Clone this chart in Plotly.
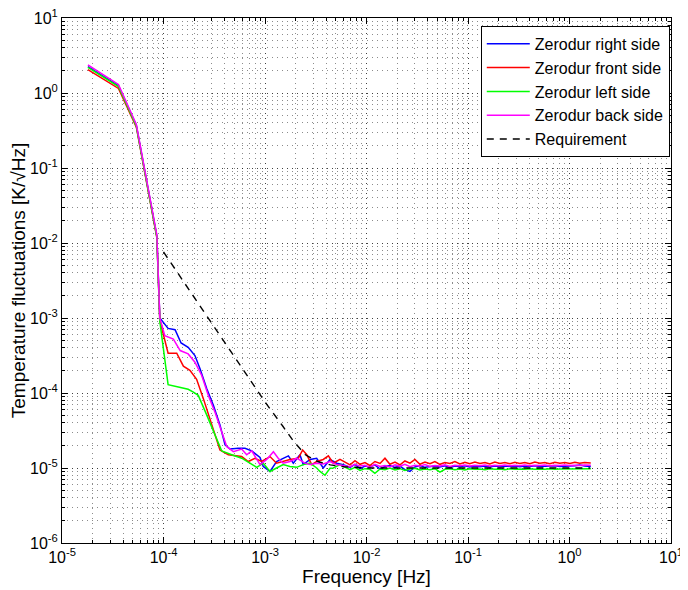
import plotly.graph_objects as go

# ---------------- data ----------------
# low-frequency part (shared frequency bins)
f_low = [1.8e-5, 3.6e-5, 5.4e-5, 7.2e-5, 8.6e-5, 9.2e-5]
blue_low = [2.25, 1.25, 0.37, 0.046, 1.24e-2, 1.0e-3]
red_low = [2.05, 1.15, 0.35, 0.044, 1.18e-2, 9.3e-4]
green_low = [2.20, 1.22, 0.36, 0.045, 1.2e-2, 9.0e-4]
magenta_low = [2.38, 1.30, 0.38, 0.048, 1.28e-2, 1.0e-3]

# transition part (per series)
blue_f = [1.11e-4, 1.30e-4, 1.49e-4, 1.75e-4, 2.04e-4, 2.29e-4, 2.67e-4, 3.10e-4, 3.60e-4, 4.04e-4,
          4.52e-4, 5.46e-4, 6.35e-4, 7.40e-4, 8.28e-4, 8.93e-4, 9.62e-4, 1.12e-3, 1.30e-3, 1.51e-3,
          1.70e-3, 1.90e-3, 2.21e-3, 2.38e-3, 2.78e-3, 3.23e-3, 3.75e-3, 4.37e-3, 5.08e-3, 5.91e-3]
blue_v = [7.26e-4, 6.98e-4, 4.64e-4, 4.06e-4, 3.16e-4, 2.10e-4, 1.14e-4, 6.87e-5, 3.74e-5, 2.03e-5,
          1.79e-5, 1.83e-5, 1.83e-5, 1.69e-5, 1.50e-5, 1.38e-5, 1.05e-5, 0.90e-5, 1.22e-5, 1.35e-5,
          1.45e-5, 1.16e-5, 1.50e-5, 1.11e-5, 1.30e-5, 1.35e-5, 1.00e-5, 1.30e-5, 1.16e-5, 1.11e-5]

red_f = [1.11e-4, 1.35e-4, 1.57e-4, 1.82e-4, 2.12e-4, 2.47e-4, 2.98e-4, 3.60e-4, 4.35e-4, 5.06e-4,
         5.89e-4, 6.84e-4, 7.96e-4, 9.27e-4, 1.12e-3, 1.30e-3, 1.51e-3, 1.76e-3, 2.13e-3, 2.35e-3,
         2.58e-3, 2.89e-3, 3.23e-3, 3.75e-3, 4.21e-3, 4.71e-3, 5.48e-3]
red_v = [3.39e-4, 3.39e-4, 2.28e-4, 2.00e-4, 1.52e-4, 8.41e-5, 3.74e-5, 1.74e-5, 1.50e-5, 1.46e-5,
         1.42e-5, 1.22e-5, 1.35e-5, 1.22e-5, 1.42e-5, 1.16e-5, 1.22e-5, 1.30e-5, 1.35e-5, 1.74e-5,
         1.50e-5, 1.11e-5, 1.22e-5, 1.30e-5, 1.45e-5, 1.16e-5, 1.30e-5]

green_f = [1.11e-4, 1.40e-4, 1.75e-4, 1.97e-4, 2.20e-4, 2.67e-4, 3.21e-4, 3.74e-4, 4.70e-4, 5.89e-4,
           7.10e-4, 8.28e-4, 9.62e-4, 1.12e-3, 1.30e-3, 1.51e-3, 1.76e-3, 2.05e-3, 2.38e-3, 2.78e-3,
           3.23e-3, 3.48e-3, 3.90e-3, 4.37e-3, 4.71e-3, 5.48e-3]
green_v = [1.29e-4, 1.20e-4, 1.12e-4, 1.03e-4, 9.30e-5, 5.07e-5, 2.75e-5, 1.69e-5, 1.50e-5, 1.35e-5,
           1.16e-5, 1.02e-5, 1.16e-5, 0.90e-5, 1.00e-5, 1.11e-5, 1.05e-5, 1.02e-5, 1.11e-5, 1.16e-5,
           1.00e-5, 0.90e-5, 0.80e-5, 0.99e-5, 1.00e-5, 1.11e-5]

magenta_f = [1.03e-4, 1.25e-4, 1.46e-4, 1.75e-4, 2.04e-4, 2.38e-4, 2.76e-4, 3.21e-4, 3.74e-4, 4.20e-4,
             4.88e-4, 5.89e-4, 6.60e-4, 7.40e-4, 8.93e-4, 1.04e-3, 1.21e-3, 1.35e-3, 1.51e-3, 1.76e-3,
             2.05e-3, 2.48e-3, 2.78e-3, 3.23e-3, 3.75e-3, 4.37e-3, 5.08e-3]
magenta_v = [5.81e-4, 5.24e-4, 3.68e-4, 3.32e-4, 2.57e-4, 1.71e-4, 9.33e-5, 5.60e-5, 3.04e-5, 1.93e-5,
             1.65e-5, 1.79e-5, 1.50e-5, 1.69e-5, 1.11e-5, 1.30e-5, 1.65e-5, 1.35e-5, 1.16e-5, 1.22e-5,
             1.35e-5, 1.16e-5, 1.11e-5, 1.16e-5, 1.13e-5, 1.22e-5, 1.11e-5]

# high-frequency noise floor (shared frequency bins), values in units of 1e-5 K/sqrt(Hz)
f_band = [6.88e-3, 7.70e-3, 8.63e-3, 9.66e-3, 1.08e-2, 1.21e-2, 1.36e-2, 1.52e-2, 1.70e-2, 1.91e-2,
          2.14e-2, 2.39e-2, 2.68e-2, 3.00e-2, 3.36e-2, 3.77e-2, 4.22e-2, 4.72e-2, 5.29e-2, 5.92e-2,
          6.63e-2, 7.43e-2, 8.32e-2, 9.32e-2, 0.104, 0.117, 0.131, 0.147, 0.164, 0.184,
          0.206, 0.231, 0.259, 0.290, 0.324, 0.363, 0.407, 0.456, 0.510, 0.572,
          0.640, 0.717, 0.803, 0.900, 1.01, 1.13, 1.26, 1.41, 1.62]
red_band_e5 = [1.10, 1.25, 1.12, 1.18, 1.08, 1.22, 1.15, 1.35, 1.12, 1.20, 1.10, 1.24, 1.16, 1.30, 1.12,
               1.20, 1.14, 1.22, 1.12, 1.18, 1.15, 1.22, 1.13, 1.19, 1.14, 1.20, 1.15, 1.18, 1.13, 1.20,
               1.15, 1.18, 1.14, 1.19, 1.15, 1.18, 1.14, 1.20, 1.16, 1.18, 1.14, 1.19, 1.16, 1.18, 1.15,
               1.19, 1.16, 1.18, 1.17]
magenta_band_e5 = [1.04, 1.12, 1.06, 1.09, 1.02, 1.12, 1.05, 1.08, 1.03, 1.10, 1.06, 1.12, 1.04, 1.09, 1.06,
                   1.11, 1.05, 1.08, 1.06, 1.10, 1.05, 1.09, 1.07, 1.10, 1.06, 1.09, 1.07, 1.10, 1.06, 1.09,
                   1.07, 1.10, 1.07, 1.09, 1.07, 1.10, 1.07, 1.09, 1.08, 1.10, 1.07, 1.09, 1.08, 1.10, 1.08,
                   1.09, 1.08, 1.10, 1.09]
blue_band_e5 = [1.02, 1.12, 0.98, 1.06, 1.03, 1.10, 0.97, 1.05, 1.08, 1.02, 1.06, 0.95, 0.90, 1.03, 1.08,
                1.02, 1.05, 1.06, 1.03, 1.07, 1.02, 1.06, 1.04, 1.07, 1.03, 1.06, 1.04, 1.06, 1.03, 1.06,
                1.04, 1.06, 1.05, 1.06, 1.04, 1.06, 1.05, 1.07, 1.05, 1.06, 1.05, 1.07, 1.05, 1.06, 1.05,
                1.07, 1.10, 1.06, 1.05]
green_band_e5 = [0.95, 1.02, 0.93, 0.98, 0.96, 0.85, 0.97, 0.95, 1.00, 0.94, 0.98, 0.93, 0.97, 0.99, 0.94,
                 0.97, 0.95, 0.98, 0.88, 0.96, 0.98, 0.95, 0.97, 0.94, 0.98, 0.96, 0.97, 0.95, 0.98, 0.96,
                 0.97, 0.95, 0.98, 0.96, 0.97, 0.96, 0.98, 0.96, 0.97, 0.96, 0.98, 0.96, 0.97, 0.97, 0.98,
                 0.96, 0.98, 0.97, 0.98]

# requirement curve
req_f = [1e-4, 2e-4, 4e-4, 7e-4, 1e-3, 1.5e-3, 1.9e-3, 2.5e-3, 3.3e-3, 4.4e-3, 6e-3, 1e-2, 1.6]
req_v = [7.6e-3, 1.9e-3, 4.75e-4, 1.55e-4, 7.6e-5, 3.6e-5, 2.3e-5, 1.5e-5, 1.22e-5, 1.1e-5, 1.04e-5, 1.0e-5, 1.0e-5]

series_names = ["Zerodur right side", "Zerodur front side", "Zerodur left side", "Zerodur back side"]
x_tick_vals = [1e-5, 1e-4, 1e-3, 1e-2, 1e-1, 1e0, 1e1]
x_tick_text = ["10<sup>-5</sup>", "10<sup>-4</sup>", "10<sup>-3</sup>", "10<sup>-2</sup>",
               "10<sup>-1</sup>", "10<sup>0</sup>", "10<sup>1</sup>"]
y_tick_vals = [1e-6, 1e-5, 1e-4, 1e-3, 1e-2, 1e-1, 1e0, 1e1]
y_tick_text = ["10<sup>-6</sup>", "10<sup>-5</sup>", "10<sup>-4</sup>", "10<sup>-3</sup>",
               "10<sup>-2</sup>", "10<sup>-1</sup>", "10<sup>0</sup>", "10<sup>1</sup>"]

# ---------------- build ----------------
def e5(lst):
    return [v * 1e-5 for v in lst]

series = [
    (series_names[0], "#0000FF", f_low + blue_f + f_band, blue_low + blue_v + e5(blue_band_e5)),
    (series_names[1], "#FF0000", f_low + red_f + f_band, red_low + red_v + e5(red_band_e5)),
    (series_names[2], "#00FF00", f_low + green_f + f_band, green_low + green_v + e5(green_band_e5)),
    (series_names[3], "#FF00FF", f_low + magenta_f + f_band, magenta_low + magenta_v + e5(magenta_band_e5)),
]

fig = go.Figure()
for name, col, xs, ys in series:
    fig.add_trace(go.Scatter(x=xs, y=ys, mode="lines", name=name,
                             line=dict(color=col, width=1.5)))
fig.add_trace(go.Scatter(x=req_f, y=req_v, mode="lines", name="Requirement",
                         line=dict(color="black", width=1.4, dash="7px,6px")))

minor_x = [k * 10.0 ** n for n in range(-5, 1) for k in range(2, 10)]
minor_y = [k * 10.0 ** n for n in range(-6, 1) for k in range(2, 10)]

font_family = "Liberation Sans, Arial, Helvetica, sans-serif"
grid_major = dict(showgrid=True, gridcolor="rgba(0,0,0,0.75)", gridwidth=1, griddash="1px,4px")

common_axis = dict(
    type="log", showline=True, linecolor="black", linewidth=1, mirror="allticks",
    ticks="inside", ticklen=6, tickcolor="black", tickwidth=1, zeroline=False,
    tickmode="array", tickfont=dict(size=16, color="black", family=font_family),
    automargin=False, ticklabeloverflow="allow",
    **grid_major,
)

fig.update_xaxes(
    range=[-5, 1], tickvals=x_tick_vals, ticktext=x_tick_text,
    minor=dict(tickmode="array", tickvals=minor_x, ticks="inside", ticklen=3, tickcolor="black",
               showgrid=True, gridcolor="rgba(0,0,0,0.45)", gridwidth=1, griddash="1px,4px"),
    title=dict(text="Frequency [Hz]", font=dict(size=19, color="black", family=font_family), standoff=0),
    **common_axis,
)
fig.update_yaxes(
    range=[-6, 1], tickvals=y_tick_vals, ticktext=y_tick_text,
    minor=dict(tickmode="array", tickvals=minor_y, ticks="inside", ticklen=3, tickcolor="black",
               showgrid=True, gridcolor="rgba(0,0,0,0.45)", gridwidth=1, griddash="1px,4px"),
    title=dict(text="Temperature fluctuations [K/√Hz]", font=dict(size=19, color="black", family=font_family),
               standoff=6),
    **common_axis,
)

# the page body adds an 8 px offset, so the figure is 8 px smaller and margins are shifted
fig.update_layout(
    width=680, height=582,
    margin=dict(l=54, r=17, t=10, b=47),
    paper_bgcolor="white", plot_bgcolor="white",
    font=dict(family=font_family, color="black"),
    legend=dict(x=0.998, xanchor="right", y=0.985, yanchor="top",
                bgcolor="white", bordercolor="black", borderwidth=1,
                font=dict(size=16, color="black", family=font_family),
                itemwidth=43, tracegroupgap=0),
    showlegend=True,
)

fig.write_html("out.html")
